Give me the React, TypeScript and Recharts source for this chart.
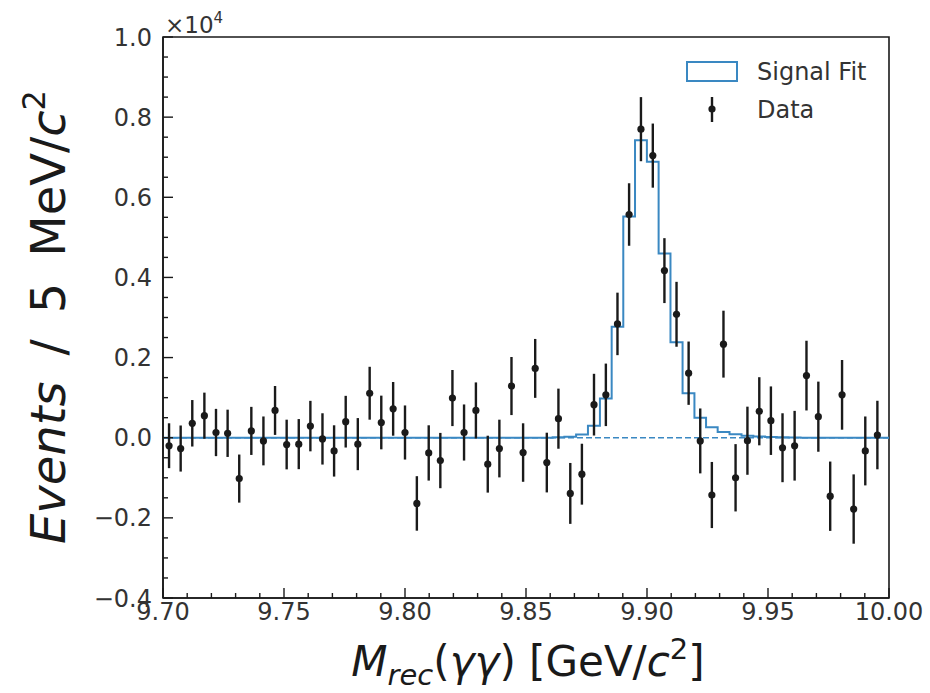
import React from 'react'
import {
  ComposedChart,
  XAxis,
  YAxis,
  Scatter,
  ErrorBar,
  Line,
  ReferenceLine,
  ReferenceArea
} from 'recharts'

// bin centres in GeV/c^2
const MASS = [
  9.7025, 9.7073, 9.7121, 9.7171, 9.7219, 9.7267, 9.7315, 9.7365, 9.7415, 9.7463,
  9.7511, 9.7561, 9.7609, 9.7659, 9.7707, 9.7755, 9.7805, 9.7854, 9.7902, 9.7951,
  9.8, 9.8049, 9.8098, 9.8146, 9.8196, 9.8244, 9.8293, 9.8342, 9.839, 9.844,
  9.8488, 9.8538, 9.8586, 9.8634, 9.8683, 9.8731, 9.8781, 9.883, 9.8878, 9.8926,
  9.8975, 9.9024, 9.9072, 9.9122, 9.9172, 9.922, 9.9268, 9.9316, 9.9366, 9.9415,
  9.9464, 9.9512, 9.956, 9.961, 9.9659, 9.9708, 9.9757, 9.9806, 9.9854, 9.9902,
  9.9952
]

// background-subtracted events per bin
const EVENTS = [
  -200, -270, 360, 550, 130, 110, -1020, 170, -80, 680,
  -170, -160, 290, -30, -330, 400, -160, 1110, 380, 720,
  130, -1640, -380, -570, 990, 130, 680, -660, -270, 1290,
  -370, 1730, -620, 475, -1390, -910, 825, 1070, 2840, 5570,
  7700, 7040, 4170, 3080, 1610, -80, -1430, 2335, -1000, -75,
  660, 425, -250, -200, 1550, 525, -1460, 1070, -1780, -330,
  67
]

const ERRORS = [
  560, 575, 580, 575, 590, 590, 600, 600, 610, 610,
  620, 625, 630, 640, 640, 645, 650, 660, 670, 670,
  675, 680, 690, 690, 700, 700, 700, 710, 720, 725,
  730, 735, 745, 750, 760, 760, 770, 780, 780, 780,
  800, 800, 810, 810, 790, 810, 825, 835, 840, 850,
  850, 855, 860, 870, 870, 875, 865, 870, 865, 860,
  855
]

// signal fit per bin
const FIT = [
  0, 0, 0, 0, 0, 0, 0, 0, 0, 0,
  0, 0, 0, 0, 0, 0, 0, 0, 0, 0,
  0, 0, 0, 0, 0, 0, 0, 0, 0, 0,
  0, 0, 0, 10, 25, 80, 300, 980, 2770, 5520,
  7425, 6885, 4600, 2385, 1110, 500, 260, 140, 85, 50,
  30, 17, 10, 5, 0, 0, 0, 0, 0, 0,
  0
]

const X_RANGE = [9.7, 10.0]
const X_MAJOR = [9.7, 9.75, 9.8, 9.85, 9.9, 9.95, 10.0]
const X_MINOR = [
  9.71, 9.72, 9.73, 9.74, 9.76, 9.77, 9.78, 9.79, 9.81, 9.82, 9.83, 9.84,
  9.86, 9.87, 9.88, 9.89, 9.91, 9.92, 9.93, 9.94, 9.96, 9.97, 9.98, 9.99
]
const Y_RANGE = [-4000, 10000]
const Y_MAJOR = [-4000, -2000, 0, 2000, 4000, 6000, 8000, 10000]
const Y_MINOR = [
  -3500, -3000, -2500, -1500, -1000, -500, 500, 1000, 1500, 2500, 3000,
  3500, 4500, 5000, 5500, 6500, 7000, 7500, 8500, 9000, 9500
]

const BLUE = '#3a88c2'
const INK = '#1a1a1a'
const GREY = '#333'
const FONT = '"DejaVu Sans", sans-serif'

const points = MASS.map((m, i) => ({ m, y: EVENTS[i], err: ERRORS[i] }))
const fitLine = [
  { m: X_RANGE[0], fit: 0 },
  ...MASS.map((m, i) => ({ m, fit: FIT[i] })),
  { m: X_RANGE[1], fit: 0 }
]

// inward ticks, minor ones shorter
const XTick = (props: any) => {
  const { x, y, payload } = props
  const major = X_MAJOR.includes(payload.value)
  return (
    <g>
      <line x1={x} x2={x} y1={y} y2={y - (major ? 10 : 5)} stroke={INK} strokeWidth={1.4} />
      {major && (
        <text x={x} y={y + 22} textAnchor="middle" fontSize={24} fontFamily={FONT} fill={GREY}>
          {payload.value.toFixed(2)}
        </text>
      )}
    </g>
  )
}

const YTick = (props: any) => {
  const { x, y, payload } = props
  const major = Y_MAJOR.includes(payload.value)
  const v = payload.value / 1e4
  const label = (v < 0 ? '\u2212' : '') + Math.abs(v).toFixed(1)
  return (
    <g>
      <line x1={x} x2={x + (major ? 10 : 5)} y1={y} y2={y} stroke={INK} strokeWidth={1.4} />
      {major && (
        <text x={x - 11} y={y} dy="0.36em" textAnchor="end" fontSize={24} fontFamily={FONT} fill={GREY}>
          {label}
        </text>
      )}
    </g>
  )
}

const Dot = (props: any) => <circle cx={props.cx} cy={props.cy} r={3.6} fill={INK} />

export default function App() {
  return (
    <div style={{ position: 'absolute', left: 0, top: 0, background: '#fff' }}>
      <ComposedChart
        width={930}
        height={693}
        margin={{ top: 37, right: 41, bottom: 55, left: 103 }}
      >
        <XAxis
          dataKey="m"
          type="number"
          domain={X_RANGE}
          ticks={[...X_MAJOR, ...X_MINOR]}
          interval={0}
          allowDataOverflow
          height={40}
          tickSize={0}
          tickMargin={0}
          tickLine={false}
          axisLine={{ stroke: INK, strokeWidth: 1.6 }}
          tick={<XTick />}
        />
        <YAxis
          type="number"
          domain={Y_RANGE}
          ticks={[...Y_MAJOR, ...Y_MINOR]}
          interval={0}
          allowDataOverflow
          width={60}
          tickSize={0}
          tickMargin={0}
          tickLine={false}
          axisLine={{ stroke: INK, strokeWidth: 1.6 }}
          tick={<YTick />}
        />
        <ReferenceArea
          x1={X_RANGE[0]}
          x2={X_RANGE[1]}
          y1={Y_RANGE[0]}
          y2={Y_RANGE[1]}
          fill="none"
          fillOpacity={0}
          stroke={INK}
          strokeWidth={1.6}
        />
        <ReferenceLine y={0} stroke={BLUE} strokeWidth={1.5} strokeDasharray="6 3" />
        <Line
          data={fitLine}
          dataKey="fit"
          type="step"
          stroke={BLUE}
          strokeWidth={2}
          dot={false}
          isAnimationActive={false}
        />
        <Scatter data={points} dataKey="y" shape={<Dot />} isAnimationActive={false}>
          <ErrorBar dataKey="err" direction="y" width={0} stroke={INK} strokeWidth={2.4} isAnimationActive={false} />
        </Scatter>

        {/* offset label */}
        <text x={165} y={33} fontSize={23} fontFamily={FONT} fill={GREY}>
          ×10<tspan dy={-10} fontSize={15}>4</tspan>
        </text>

        {/* legend */}
        <rect x={687} y={62} width={50} height={19} fill="#fff" stroke={BLUE} strokeWidth={2} />
        <text x={757} y={71} dy="0.36em" fontSize={24} fontFamily={FONT} fill={GREY}>Signal Fit</text>
        <line x1={712} x2={712} y1={97} y2={122} stroke={INK} strokeWidth={2.4} />
        <circle cx={712} cy={109} r={3.6} fill={INK} />
        <text x={757} y={109} dy="0.36em" fontSize={24} fontFamily={FONT} fill={GREY}>Data</text>

        {/* axis titles */}
        <text x={528} y={676} textAnchor="middle" fontSize={42} fontFamily={FONT} fill={INK}>
          <tspan fontStyle="italic">M</tspan>
          <tspan fontStyle="italic" fontSize={29} dy={9}>rec</tspan>
          <tspan dy={-9}>(</tspan>
          <tspan fontStyle="italic">γγ</tspan>
          <tspan>) [GeV/</tspan>
          <tspan fontStyle="italic">c</tspan>
          <tspan fontSize={29} dy={-17}>2</tspan>
          <tspan dy={17}>]</tspan>
        </text>
        <text
          x={65}
          y={317}
          transform="rotate(-90, 65, 317)"
          textAnchor="middle"
          fontSize={48}
          fontFamily={FONT}
          fill={INK}
        >
          <tspan fontStyle="italic">Events</tspan>
          <tspan dx={26}>/</tspan>
          <tspan dx={26}>5</tspan>
          <tspan dx={26}>MeV/</tspan>
          <tspan fontStyle="italic">c</tspan>
          <tspan fontSize={32} dy={-20}>2</tspan>
        </text>
      </ComposedChart>
    </div>
  )
}
